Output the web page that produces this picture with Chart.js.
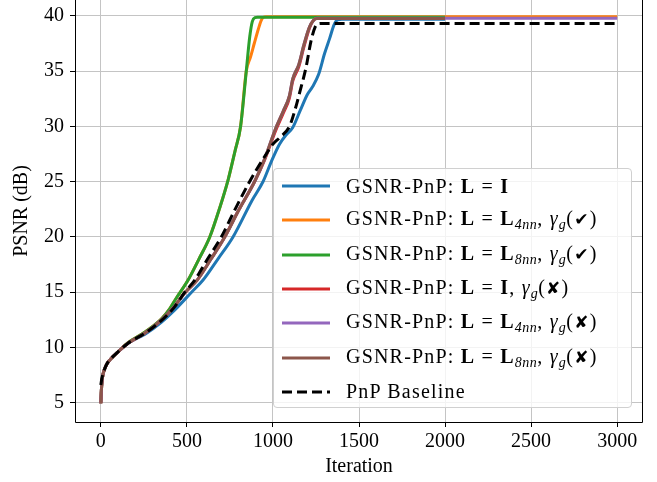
<!DOCTYPE html>
<html>
<head>
<meta charset="utf-8">
<script src="https://cdn.jsdelivr.net/npm/chart.js@4"></script>
<style>
  body { margin: 0; background: #fff; }
  #wrap { position: relative; width: 657px; height: 482px; }
  #legenda {
    position: absolute; left: 273px; top: 168px; width: 357px; height: 238px;
    border: 1px solid #d0d0d0; border-radius: 4px; background: rgba(255,255,255,0.8);
    font-family: "Liberation Serif", serif; font-size: 20px; color: #000;
  }
  .item { position: absolute; left: 0; height: 30px; display: flex; align-items: center; white-space: nowrap; letter-spacing: 1.2px; }
  .item svg { margin-left: 8px; margin-right: 16px; }
  .item sub { font-size: 14px; vertical-align: -4px; letter-spacing: 0.5px; }
  .sym { font-family: "DejaVu Sans", sans-serif; font-size: 17px; }
</style>
</head>
<body>
<div id="wrap">
  <canvas id="grafico" width="657" height="482"></canvas>
  <div id="legenda"></div>
</div>
<script>
// valores (iteração x PSNR)
const iterBlue = [0, 3, 6, 12, 21, 35, 54, 100, 160, 257, 353, 430, 527, 594, 680, 768, 880, 942, 990, 1038, 1080, 1115, 1160, 1200, 1230, 1265, 1300, 1330, 1355, 1375, 1400, 2000];
const psnrBlue = [4.95, 6.0, 6.8, 7.5, 8.0, 8.5, 8.9, 9.6, 10.4, 11.2, 12.3, 13.4, 15.0, 16.1, 18.0, 20.0, 23.35, 25.0, 26.8, 28.4, 29.3, 29.9, 31.5, 32.9, 33.6, 34.7, 36.6, 38.0, 39.2, 39.65, 39.7, 39.7];

const iterOrange = [0, 3, 6, 12, 21, 35, 54, 100, 160, 257, 353, 400, 440, 507, 570, 633, 690, 740, 780, 812, 845, 870, 893, 915, 932, 945, 960, 3000];
const psnrOrange = [4.95, 6.0, 6.8, 7.5, 8.0, 8.5, 8.9, 9.6, 10.45, 11.4, 12.6, 13.5, 14.5, 16.1, 18.0, 20.0, 22.6, 25.2, 27.8, 30.0, 35.0, 36.3, 37.6, 38.8, 39.6, 39.88, 39.93, 39.93];

const iterGreen = [0, 3, 6, 12, 21, 35, 54, 100, 160, 257, 353, 400, 440, 507, 570, 633, 690, 740, 780, 812, 845, 865, 880, 895, 910, 2000];
const psnrGreen = [4.95, 6.0, 6.8, 7.5, 8.0, 8.5, 8.9, 9.6, 10.45, 11.4, 12.6, 13.5, 14.5, 16.1, 18.0, 20.0, 22.6, 25.2, 27.8, 30.0, 35.0, 38.1, 39.5, 39.85, 39.88, 39.88];

const iterRed = [0, 3, 6, 12, 21, 35, 54, 100, 160, 257, 353, 430, 488, 560, 640, 720, 800, 893, 950, 1015, 1060, 1096, 1115, 1150, 1180, 1212, 1235, 1255, 2000];
const psnrRed = [4.95, 6.0, 6.8, 7.5, 8.0, 8.5, 8.9, 9.6, 10.4, 11.3, 12.5, 13.75, 14.95, 16.1, 18.0, 20.0, 22.4, 25.0, 26.9, 29.6, 31.2, 32.6, 34.1, 35.4, 37.2, 38.9, 39.6, 39.78, 39.78];

const iterPurple = [0, 3, 6, 12, 21, 35, 54, 100, 160, 257, 353, 430, 488, 560, 640, 720, 800, 893, 950, 1015, 1060, 1096, 1115, 1150, 1180, 1212, 1235, 1255, 3000];
const psnrPurple = [4.95, 6.0, 6.8, 7.5, 8.0, 8.5, 8.9, 9.6, 10.4, 11.3, 12.5, 13.75, 14.95, 16.1, 18.0, 20.0, 22.4, 25.0, 27.0, 29.8, 31.4, 32.8, 34.3, 35.6, 37.4, 39.0, 39.6, 39.8, 39.8];

const iterBrown = [0, 3, 6, 12, 21, 35, 54, 100, 160, 257, 353, 430, 488, 560, 640, 720, 800, 893, 950, 1015, 1060, 1096, 1115, 1150, 1180, 1212, 1235, 1255, 2000];
const psnrBrown = [4.95, 6.0, 6.8, 7.5, 8.0, 8.5, 8.9, 9.6, 10.4, 11.3, 12.5, 13.75, 14.95, 16.1, 18.0, 20.0, 22.4, 25.0, 27.0, 29.8, 31.4, 32.8, 34.3, 35.6, 37.4, 39.0, 39.6, 39.78, 39.78];

const iterBase = [0, 6, 12, 21, 35, 54, 100, 160, 257, 353, 430, 488, 546, 620, 700, 780, 864, 920, 961, 1000, 1040, 1096, 1130, 1154, 1193, 1222, 1245, 1262, 1290, 3000];
const psnrBase = [6.6, 7.2, 7.6, 8.0, 8.5, 8.9, 9.6, 10.4, 11.3, 12.45, 13.7, 15.0, 16.1, 18.0, 20.0, 22.5, 25.0, 26.5, 27.5, 28.4, 29.0, 30.0, 31.6, 33.0, 35.4, 37.8, 39.0, 39.3, 39.33, 39.33];

const xTicks = [0, 500, 1000, 1500, 2000, 2500, 3000];
const yTicks = [5, 10, 15, 20, 25, 30, 35, 40];

const rotulos = [
  'GSNR-PnP: <b>L</b> = <b>I</b>',
  'GSNR-PnP: <b>L</b> = <b>L</b><sub><i>4nn</i></sub>, <i>γ</i><sub><i>g</i></sub>(<span class="sym">✔</span>)',
  'GSNR-PnP: <b>L</b> = <b>L</b><sub><i>8nn</i></sub>, <i>γ</i><sub><i>g</i></sub>(<span class="sym">✔</span>)',
  'GSNR-PnP: <b>L</b> = <b>I</b>, <i>γ</i><sub><i>g</i></sub>(<span class="sym">✘</span>)',
  'GSNR-PnP: <b>L</b> = <b>L</b><sub><i>4nn</i></sub>, <i>γ</i><sub><i>g</i></sub>(<span class="sym">✘</span>)',
  'GSNR-PnP: <b>L</b> = <b>L</b><sub><i>8nn</i></sub>, <i>γ</i><sub><i>g</i></sub>(<span class="sym">✘</span>)',
  'PnP Baseline'
];
const cores = ['#1f77b4', '#ff7f0e', '#2ca02c', '#d62728', '#9467bd', '#8c564b', '#000000'];

function pares(xs, ys) {
  return xs.map((x, i) => ({ x: x, y: ys[i] }));
}

const series = [
  pares(iterBlue, psnrBlue), pares(iterOrange, psnrOrange), pares(iterGreen, psnrGreen),
  pares(iterRed, psnrRed), pares(iterPurple, psnrPurple), pares(iterBrown, psnrBrown),
  pares(iterBase, psnrBase)
];

const fonte = { family: '"Liberation Serif", serif', size: 20 };

// order: a última série fica por cima (como no matplotlib)
const datasets = series.map((d, i) => ({
  label: rotulos[i],
  data: d,
  order: series.length - 1 - i,
  borderColor: cores[i],
  borderWidth: 3,
  borderDash: i === 6 ? [10, 5] : [],
  pointRadius: 0,
  fill: false,
  cubicInterpolationMode: 'monotone'
}));

// bordas do eixo (esquerda, direita, baixo)
const bordas = {
  id: 'bordas',
  afterDatasetsDraw(chart) {
    const a = chart.chartArea, ctx = chart.ctx;
    ctx.save();
    ctx.strokeStyle = '#000';
    ctx.lineWidth = 1;
    ctx.beginPath();
    ctx.moveTo(a.left + 0.5, a.top);
    ctx.lineTo(a.left + 0.5, a.bottom + 0.5);
    ctx.lineTo(a.right - 0.5, a.bottom + 0.5);
    ctx.lineTo(a.right - 0.5, a.top);
    ctx.stroke();
    ctx.restore();
  }
};

new Chart(document.getElementById('grafico').getContext('2d'), {
  type: 'line',
  data: { datasets: datasets },
  options: {
    responsive: false,
    animation: false,
    layout: { padding: { top: 0, right: 14, left: 0, bottom: 0 } },
    plugins: { legend: { display: false }, tooltip: { enabled: false } },
    scales: {
      x: {
        type: 'linear', min: -150, max: 3150,
        afterBuildTicks: s => { s.ticks = xTicks.map(v => ({ value: v })); },
        afterFit: s => { s.height = 60; s.paddingLeft = 0; s.paddingRight = 0; },
        grid: { color: '#c4c4c4', tickColor: '#000', tickLength: 5 },
        border: { display: false },
        ticks: { font: fonte, color: '#000', padding: 3, maxRotation: 0, callback: v => String(v) },
        title: { display: true, text: 'Iteration', font: fonte, color: '#000', padding: { top: 0, bottom: 3 } }
      },
      y: {
        type: 'linear', min: 3.253, max: 41.448,
        afterBuildTicks: s => { s.ticks = yTicks.map(v => ({ value: v })); },
        afterFit: s => { s.width = 75; s.paddingTop = 0; s.paddingBottom = 0; },
        grid: { color: '#c4c4c4', tickColor: '#000', tickLength: 5 },
        border: { display: false },
        ticks: { font: fonte, color: '#000', padding: 6, callback: v => String(v) },
        title: { display: true, text: 'PSNR (dB)', font: fonte, color: '#000', padding: { top: 10, bottom: 0 } }
      }
    }
  },
  plugins: [bordas]
});

// legenda em HTML (texto com negrito e subscritos)
const legenda = document.getElementById('legenda');
rotulos.forEach((txt, i) => {
  const div = document.createElement('div');
  div.className = 'item';
  div.style.top = (2 + i * 34.3) + 'px';
  const dash = i === 6 ? ' stroke-dasharray="10 5"' : '';
  div.innerHTML = '<svg width="48" height="6"><line x1="0" y1="3" x2="48" y2="3" stroke="' + cores[i] + '" stroke-width="3"' + dash + '/></svg><span>' + txt + '</span>';
  legenda.appendChild(div);
});
</script>
</body>
</html>
